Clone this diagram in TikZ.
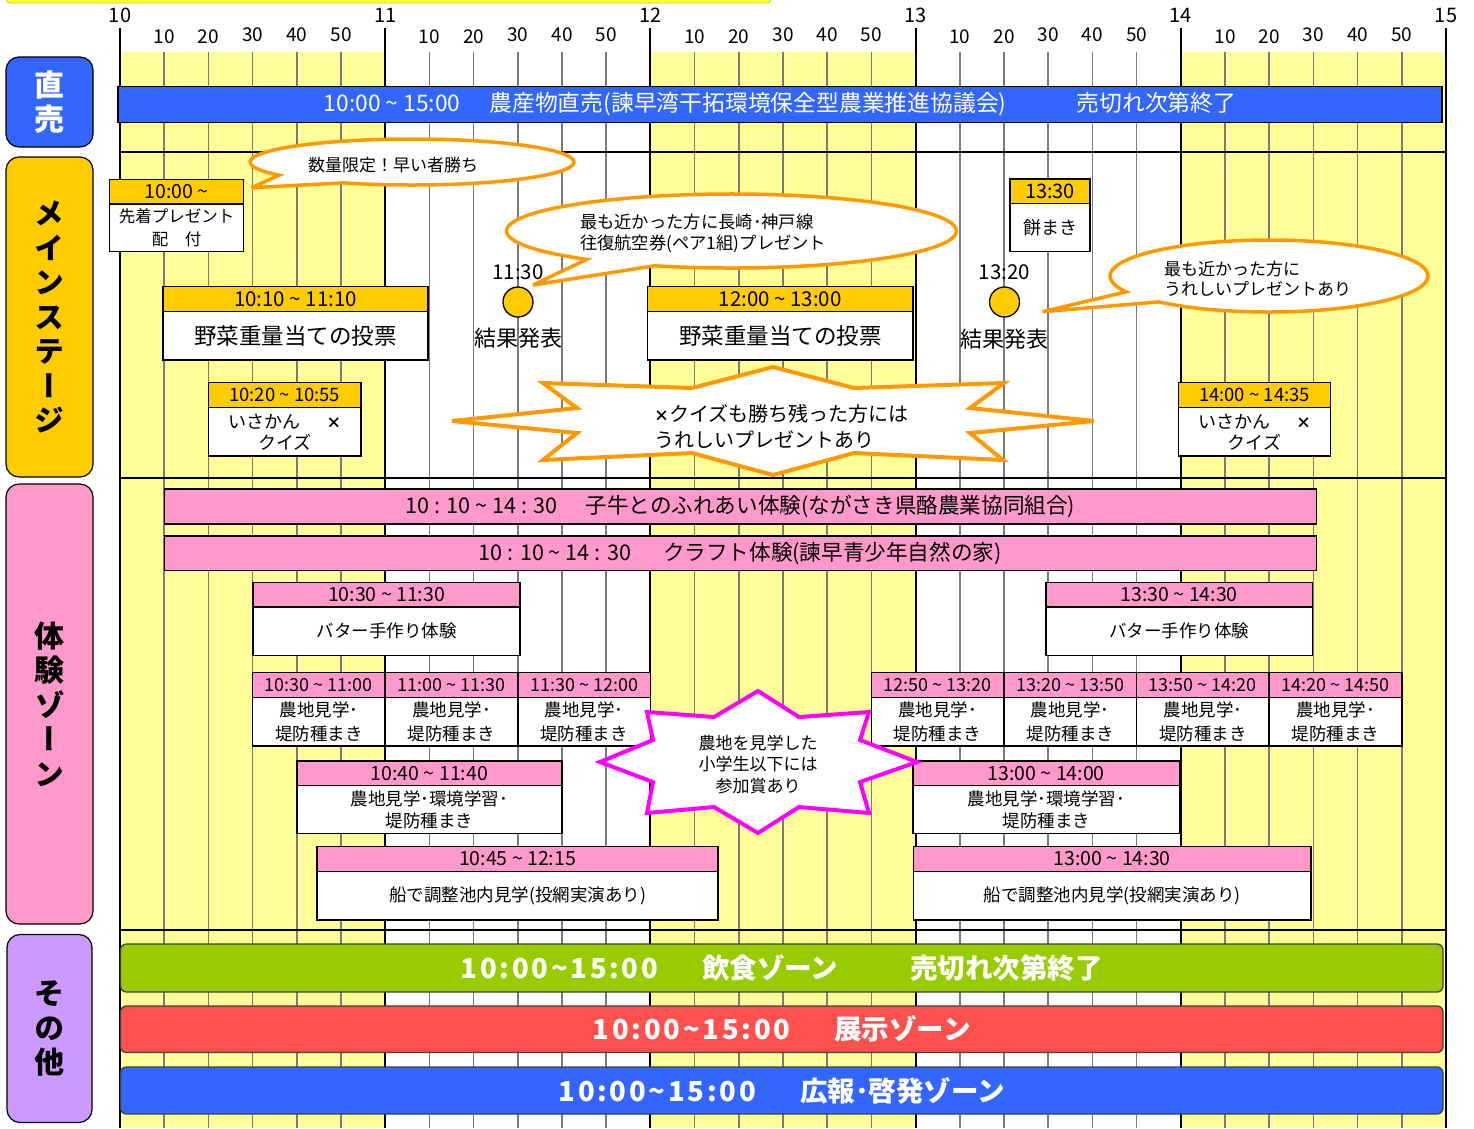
\documentclass[tikz,border=0pt]{standalone}
\usepackage{fontspec}
\setmainfont{Noto Sans CJK JP}
\newfontfamily\vfont[RawFeature=+vert]{Noto Sans CJK JP}
\usetikzlibrary{calc}
\definecolor{cblue}{HTML}{3366FF}
\definecolor{cgold}{HTML}{FFCC00}
\definecolor{cpink}{HTML}{FF99CC}
\definecolor{clav}{HTML}{CC99FF}
\definecolor{cyel}{HTML}{FFFF99}
\definecolor{cgreen}{HTML}{99CC00}
\definecolor{cred}{HTML}{FF5050}
\definecolor{corange}{HTML}{FF9900}
\definecolor{cmag}{HTML}{FF00FF}
\definecolor{cgrid}{HTML}{7A7A7A}
\definecolor{cstrip}{HTML}{FFFF33}
\newcommand\fs[2]{\fontsize{#1}{#2}\selectfont}
\newcommand\tld{\textasciitilde}
\newcommand\cellnode[7]{\node[cell,#6,minimum width={(#3)-(#2)},minimum height={(#5)-(#4)}] (#1) at ({((#2)+(#3))/2},{((#4)+(#5))/2}) {#7};}
\newcommand\ls[1]{{\addfontfeature{LetterSpace=10}#1}}
\newcommand\mult{{\bfseries\fontsize{15}{15}\selectfont ×}}
\begin{document}
\begin{tikzpicture}[x=1pt,y=-1pt,
  every node/.style={inner sep=0pt,outer sep=0pt},
  cell/.style={draw=black,line width=1.5pt,rectangle,align=center},
  gh/.style={fill=cgold},
  ph/.style={fill=cpink},
  wb/.style={fill=white},
  minorline/.style={draw=cgrid,line width=1.6pt},
  majorline/.style={draw=black,line width=2pt},
  sepline/.style={draw=black,line width=2.5pt},
  zonelbl/.style={draw=black,line width=1.2pt,rounded corners=13pt,align=center,font=\vfont\bfseries\fs{30}{34.5}},
  longbar/.style={draw=black,line width=1.5pt,rectangle,align=center},
  otherbar/.style={draw=black!75,line width=1.3pt,rounded corners=6pt,align=center,text=white,font=\bfseries\fs{27.5}{30}},
  callout/.style={draw=corange,line width=3.5pt,fill=white,line join=miter,miter limit=5},
  burst/.style={line width=4pt,fill=white,line join=miter,miter limit=6},
  dot/.style={circle,draw=black,line width=1.3pt,fill=cgold,minimum size=30pt}
]
\useasboundingbox (0,0) rectangle (1474,1128);
\fill[white] (0,0) rectangle (1474,1128);
% top strip
\draw[fill=cstrip,draw=yellow!80!black,line width=0.8pt,rounded corners=4pt] (6,-12) rectangle (771,3);
% background columns
\fill[cyel] (120,52) rectangle (385.2,1128);
\fill[cyel] (650.4,52) rectangle (915.6,1128);
\fill[cyel] (1180.8,52) rectangle (1446,1128);
% grid
\foreach \i in {0,...,4}{\foreach \m in {1,...,5}{\draw[minorline] ({120+\i*265.2+\m*44.2},52) -- ({120+\i*265.2+\m*44.2},1128);}}
\foreach \i in {0,...,5}{\draw[majorline] ({120+\i*265.2},28) -- ({120+\i*265.2},1128);}
\draw[sepline] (120,152) -- (1446,152);
\draw[sepline] (120,478) -- (1446,478);
\draw[sepline] (120,930) -- (1446,930);
% time labels
\foreach \i/\h in {0/10,1/11,2/12,3/13,4/14,5/15}{\node[font=\fs{20}{20}] (hr\h) at ({120+\i*265.2},15) {\h};}
\foreach \i in {0,...,4}{\foreach \m/\yy in {1/37,2/37,3/34.5,4/34.5,5/34.5}{\node[font=\fs{19}{19}] (mn\i\m) at ({120+\i*265.2+\m*44.2},\yy) {\m0};}}
% zone labels
\node[zonelbl,fill=cblue,text=white,minimum width=87pt,minimum height=90pt] (zchoku) at (49.5,102) {直\\売};
\node[zonelbl,fill=cgold,minimum width=87pt,minimum height=320pt] (zmain) at (49.5,317) {メ\\イ\\ン\\ス\\テ\\ー\\ジ};
\node[zonelbl,fill=cpink,minimum width=87pt,minimum height=440pt] (ztaiken) at (49.5,704) {体\\験\\ゾ\\ー\\ン};
\node[zonelbl,fill=clav,minimum width=85pt,minimum height=188pt] (zother) at (49.5,1028.5) {そ\\の\\他};
% direct sales bar
\node[longbar,fill=cblue,text=white,font=\fs{22.8}{24},minimum width=1324pt,minimum height=36pt] (chokubai) at (780,104.5) {10:00 \tld\ 15:00\hspace{29pt}農産物直売(諫早湾干拓環境保全型農業推進協議会)\hspace{70pt}売切れ次第終了};
% ---- main stage ----
% callouts
\draw[callout] ($(412,162)+(245:162pt and 23pt)$) arc[start angle=245,end angle=575,x radius=162pt,y radius=23pt] -- (251.6,187.7) -- cycle;
\node[font=\fs{17}{20}] (co1) at (393,165) {数量限定！早い者勝ち};
\draw[callout] ($(731.5,231)+(250:225pt and 37pt)$) arc[start angle=250,end angle=590,x radius=225pt,y radius=37pt] -- (533,285) -- cycle;
\node[font=\fs{17.3}{21},align=left,anchor=west] (co2) at (580,233.5) {最も近かった方に長崎･神戸線\\往復航空券(ペア1組)プレゼント};
\draw[callout] ($(1269,276)+(226:159pt and 36pt)$) arc[start angle=226,end angle=566,x radius=159pt,y radius=36pt] -- (1042.7,311.7) -- cycle;
\node[font=\fs{17}{20.5},align=left,anchor=west] (co3) at (1164,279) {最も近かった方に\\うれしいプレゼントあり};
% boxes
\cellnode{ah}{109.5}{243.5}{179.5}{204}{gh,font=\fs{19.5}{20}}{10:00 \tld}
\cellnode{ab}{109.5}{243.5}{204}{251.5}{wb,font=\fs{16.5}{23}}{先着プレゼント\\配　付}
\cellnode{bh}{163}{428}{286.5}{311.5}{gh,font=\fs{20.5}{21}}{10:10 \tld\ 11:10}
\cellnode{bb}{163}{428}{311.5}{360}{wb,font=\fs{22.5}{24}}{野菜重量当ての投票}
\cellnode{ch}{208.5}{361}{382.5}{407.5}{gh,font=\fs{18.5}{20}}{10:20 \tld\ 10:55}
\cellnode{cb}{208.5}{361}{407.5}{456}{wb,font=\fs{18}{21}}{いさかん\hspace{26pt}\mult\\クイズ}
\node[dot] (r1) at (518,302) {};
\node[font=\fs{20.5}{21}] (r1t) at (518,272) {11:30};
\node[font=\fs{22}{23}] (r1l) at (518,338) {結果発表};
\cellnode{dh}{647.5}{913}{286.5}{311.5}{gh,font=\fs{20.5}{21}}{12:00 \tld\ 13:00}
\cellnode{db}{647.5}{913}{311.5}{360}{wb,font=\fs{22.5}{24}}{野菜重量当ての投票}
\node[dot] (r2) at (1004.5,302) {};
\node[font=\fs{20.5}{21}] (r2t) at (1004.5,272) {13:20};
\node[font=\fs{22}{23}] (r2l) at (1004.5,339) {結果発表};
\cellnode{eh}{1010}{1090}{179}{203.5}{gh,font=\fs{20}{21}}{13:30}
\cellnode{eb}{1010}{1090}{203.5}{251.5}{wb,font=\fs{18}{20}}{餅まき}
\cellnode{fh}{1178.5}{1330.5}{382.5}{407.5}{gh,font=\fs{18.5}{20}}{14:00 \tld\ 14:35}
\cellnode{fb}{1178.5}{1330.5}{407.5}{456}{wb,font=\fs{18}{21}}{いさかん\hspace{26pt}\mult\\クイズ}
% orange burst
\draw[burst,draw=corange] (773,367) -- (854,388) -- (1004,383) -- (970,408) -- (1094,421) -- (970,433) -- (1003,460) -- (854,453) -- (773,475) -- (692,453) -- (543,460) -- (577,433) -- (452,421) -- (577,408) -- (543,383) -- (692,388) -- cycle;
\node[font=\fs{20}{26},align=left,anchor=west] (bq) at (654,426) {\mult クイズも勝ち残った方には\\うれしいプレゼントあり};
% ---- experience zone ----
\node[longbar,fill=cpink,font=\fs{21.6}{23},minimum width=1152pt,minimum height=35pt] (x1) at (740.25,506.5) {10 : 10 \tld\ 14 : 30\hspace{28pt}子牛とのふれあい体験(ながさき県酪農業協同組合)};
\node[longbar,fill=cpink,font=\fs{21.6}{23},minimum width=1152pt,minimum height=34.5pt] (x2) at (740.25,553) {10 : 10 \tld\ 14 : 30\hspace{32pt}クラフト体験(諫早青少年自然の家)};
\cellnode{bt1h}{253}{520}{582.5}{607}{ph,font=\fs{19.5}{20}}{10:30 \tld\ 11:30}
\cellnode{bt1b}{253}{520}{607}{655.5}{wb,font=\fs{17.5}{20}}{バター手作り体験}
\cellnode{bt2h}{1046}{1312.5}{582.5}{607}{ph,font=\fs{19.5}{20}}{13:30 \tld\ 14:30}
\cellnode{bt2b}{1046}{1312.5}{607}{655.5}{wb,font=\fs{17.5}{20}}{バター手作り体験}
% row of farm visits
\foreach \n/\xa/\xb/\t in {f1/252.6/385.2/{10:30 \tld\ 11:00},f2/385.2/517.8/{11:00 \tld\ 11:30},f3/517.8/650.4/{11:30 \tld\ 12:00},f4/871.4/1004/{12:50 \tld\ 13:20},f5/1004/1136.6/{13:20 \tld\ 13:50},f6/1136.6/1269.2/{13:50 \tld\ 14:20},f7/1269.2/1401.8/{14:20 \tld\ 14:50}}{
  \cellnode{\n h}{\xa}{\xb}{672.5}{697.5}{ph,font=\fs{18}{20}}{\t}
  \cellnode{\n b}{\xa}{\xb}{697.5}{746}{wb,font=\fs{17.5}{24}}{農地見学･\\堤防種まき}
}
\cellnode{g1h}{296.8}{562}{761}{785.5}{ph,font=\fs{19.5}{20}}{10:40 \tld\ 11:40}
\cellnode{g1b}{296.8}{562}{785.5}{833.5}{wb,font=\fs{17.5}{22}}{農地見学･環境学習･\\堤防種まき}
\cellnode{g2h}{913}{1179.5}{761}{785.5}{ph,font=\fs{19.5}{20}}{13:00 \tld\ 14:00}
\cellnode{g2b}{913}{1179.5}{785.5}{833.5}{wb,font=\fs{17.5}{22}}{農地見学･環境学習･\\堤防種まき}
\cellnode{s1h}{317}{718}{846.5}{871.5}{ph,font=\fs{19.5}{20}}{10:45 \tld\ 12:15}
\cellnode{s1b}{317}{718}{871.5}{920}{wb,font=\fs{17.5}{20}}{船で調整池内見学(投網実演あり)}
\cellnode{s2h}{913.5}{1311}{846.5}{871.5}{ph,font=\fs{19.5}{20}}{13:00 \tld\ 14:30}
\cellnode{s2b}{913.5}{1311}{871.5}{920}{wb,font=\fs{17.5}{20}}{船で調整池内見学(投網実演あり)}
% magenta burst
\draw[burst,draw=cmag] (758,691) -- (799,717) -- (869,712) -- (860,740) -- (917,762) -- (860,782) -- (869,813) -- (799,807) -- (758,833) -- (714,807) -- (647,813) -- (653,782) -- (600,762) -- (653,740) -- (647,712) -- (714,717) -- cycle;
\node[font=\fs{17}{21.5},align=center] (bm) at (758,764.5) {農地を見学した\\小学生以下には\\参加賞あり};
% ---- other ----
\node[otherbar,fill=cgreen,minimum width=1322.5pt,minimum height=48pt] (o1) at (781.75,968) {\ls{10:00\tld15:00}\hspace{44pt}飲食ゾーン\hspace{72pt}売切れ次第終了};
\node[otherbar,fill=cred,minimum width=1322.5pt,minimum height=46.5pt] (o2) at (781.75,1029.25) {\ls{10:00\tld15:00}\hspace{44pt}展示ゾーン};
\node[otherbar,fill=cblue,minimum width=1322.5pt,minimum height=47pt] (o3) at (781.75,1090.5) {\ls{10:00\tld15:00}\hspace{44pt}広報･啓発ゾーン};
\end{tikzpicture}
\end{document}
